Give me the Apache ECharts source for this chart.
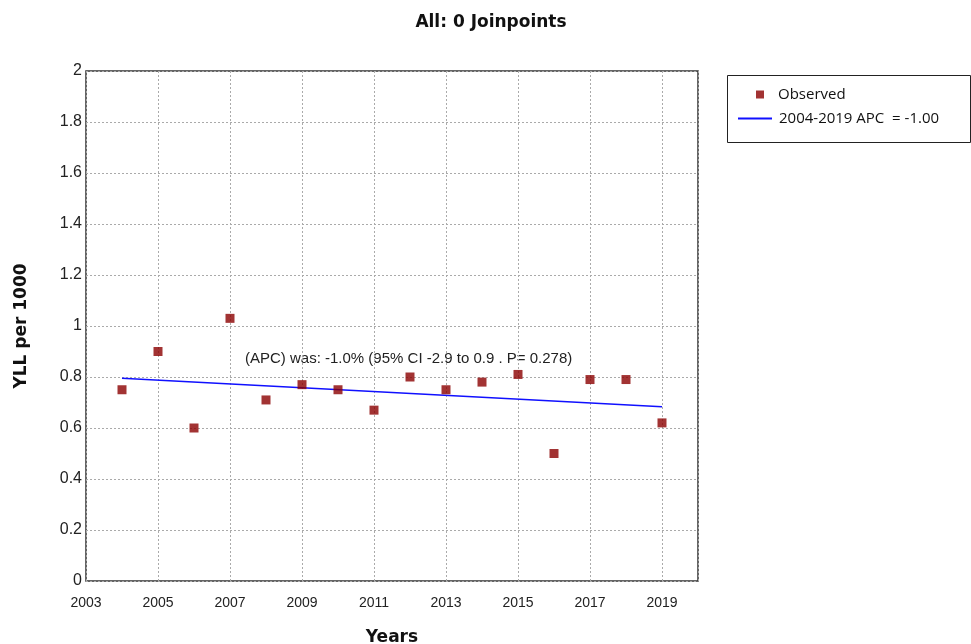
<!DOCTYPE html>
<html>
<head>
<meta charset="utf-8">
<script src="https://cdn.jsdelivr.net/npm/echarts@6/dist/echarts.min.js"></script>
<style>
  html, body { margin: 0; padding: 0; background: #fff; overflow: hidden; }
  #chart { width: 971px; height: 644px; }
</style>
</head>
<body>
<div id="chart"></div>
<script>
// Observed YLL per 1000 by year
const years = [2004, 2005, 2006, 2007, 2008, 2009, 2010, 2011, 2012, 2013, 2014, 2015, 2016, 2017, 2018, 2019];
const observed = [0.75, 0.90, 0.60, 1.03, 0.71, 0.77, 0.75, 0.67, 0.80, 0.75, 0.78, 0.81, 0.50, 0.79, 0.79, 0.62];

// Fitted trend (0 joinpoints), endpoints of the modelled segment
const trendYears = [2004, 2019];
const trendValues = [0.795, 0.683];

const observedName = 'Observed';
const trendName = '2004-2019 APC  = -1.00';
const annotation = '(APC) was: -1.0% (95% CI -2.9 to 0.9 . P= 0.278)';

const chart = echarts.init(document.getElementById('chart'));

const labelFont = { fontFamily: 'Liberation Sans, Arial, sans-serif', color: '#222' };
const boldFont = { fontFamily: 'DejaVu Sans, Verdana, sans-serif', fontWeight: 'bold', color: '#111' };

chart.setOption({
  animation: false,
  backgroundColor: '#fff',
  title: {
    text: 'All: 0 Joinpoints',
    left: 486, top: 9, textAlign: 'center',
    textStyle: Object.assign({ fontSize: 17 }, boldFont)
  },
  grid: {
    left: 86, width: 612, top: 71, height: 510,
    outerBoundsMode: 'none',
    containLabel: false,
    show: true, borderColor: '#333', borderWidth: 1.5, backgroundColor: '#fff'
  },
  xAxis: {
    type: 'value', min: 2003, max: 2020, interval: 2,
    name: 'Years', nameLocation: 'middle', nameGap: 48,
    nameTextStyle: Object.assign({ fontSize: 17 }, boldFont),
    axisLine: { show: false },
    axisTick: { show: false },
    axisLabel: Object.assign({ fontSize: 14, margin: 15, showMaxLabel: false, formatter: v => String(v) }, labelFont),
    splitLine: { show: true, lineStyle: { color: '#aaa', type: [2, 2], width: 1 } }
  },
  yAxis: {
    type: 'value', min: 0, max: 2, interval: 0.2,
    name: 'YLL per 1000', nameLocation: 'middle', nameGap: 56,
    nameTextStyle: Object.assign({ fontSize: 17 }, boldFont),
    axisLine: { show: false },
    axisTick: { show: false },
    axisLabel: Object.assign({ fontSize: 16, margin: 4, formatter: v => String(Math.round(v * 10) / 10) }, labelFont),
    splitLine: { show: true, lineStyle: { color: '#aaa', type: [2, 2], width: 1 } }
  },
  legend: [
    {
      data: [{ name: observedName, icon: 'rect' }],
      orient: 'vertical', left: 751, top: 82,
      itemWidth: 8, itemHeight: 8,
      selectedMode: false,
      textStyle: { fontFamily: 'Open Sans, Noto Sans, sans-serif', fontSize: 15, color: '#111', padding: [0, 0, 0, 9] }
    },
    {
      data: [{ name: trendName, icon: 'rect' }],
      orient: 'vertical', left: 733, top: 106,
      itemWidth: 34, itemHeight: 2,
      selectedMode: false,
      textStyle: { fontFamily: 'Open Sans, Noto Sans, sans-serif', fontSize: 15, color: '#111', padding: [0, 0, 0, 2] }
    }
  ],
  graphic: [
    {
      type: 'rect', left: 725, top: 73,
      shape: { width: 243, height: 67 },
      style: { fill: 'none', stroke: '#222', lineWidth: 1 }
    },
    {
      type: 'text', left: 245, top: 351,
      style: { text: annotation, font: '15px "Liberation Sans", Arial, sans-serif', fill: '#222' }
    }
  ],
  series: [
    {
      name: trendName, type: 'line',
      data: trendYears.map((y, i) => [y, trendValues[i]]),
      symbol: 'none',
      lineStyle: { color: '#1010ff', width: 1.5 },
      itemStyle: { color: '#1010ff' },
      z: 2
    },
    {
      name: observedName, type: 'scatter',
      data: years.map((y, i) => [y, observed[i]]),
      symbol: 'rect', symbolSize: 9,
      itemStyle: { color: '#8b0000' },
      z: 3
    }
  ]
});
</script>
</body>
</html>
